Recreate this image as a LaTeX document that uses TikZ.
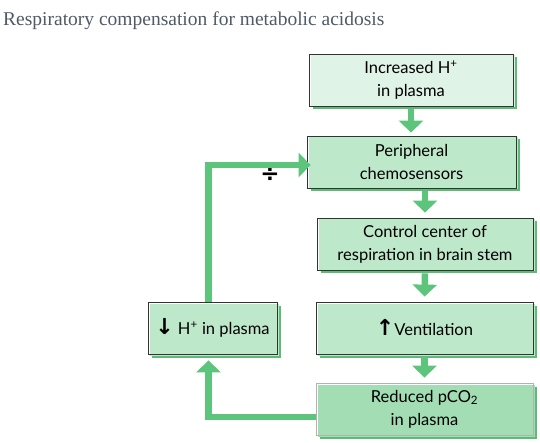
\documentclass[tikz,border=0pt]{standalone}
\usepackage{fontspec}
\setmainfont{Lato}
\newfontfamily\titlefont{Liberation Serif}
\newfontfamily\arrowfont{DejaVu Sans}
\usetikzlibrary{arrows.meta,shadows}

\definecolor{flowgreen}{HTML}{5DC47B}
\definecolor{shadegreen}{HTML}{5DBB78}
\definecolor{palefill}{HTML}{DFF3E6}
\definecolor{midfill}{HTML}{BEE8CA}
\definecolor{deepfill}{HTML}{A2DDB3}
\definecolor{titlegray}{HTML}{4E5A66}

\newcommand{\upmark}{{\arrowfont\bfseries\fontsize{22}{22}\selectfont ↑}}
\newcommand{\downmark}{{\arrowfont\bfseries\fontsize{22}{22}\selectfont ↓}}

\tikzset{
  stage/.style={draw=black!80, line width=0.8pt, minimum height=52pt, inner sep=0pt,
    align=center, font=\fontsize{16.5}{23}\selectfont,
    general shadow={fill=shadegreen, shadow xshift=3.5pt, shadow yshift=-3.5pt},
    general shadow={fill=#1, shadow xshift=1.5pt, shadow yshift=-1.5pt}},
  flow/.style={line width=6.5pt, draw=flowgreen, line join=miter,
    -{Triangle[width=24pt,length=12pt]}}
}

\begin{document}
\begin{tikzpicture}[x=1pt,y=-1pt]
    \useasboundingbox (0,0) rectangle (540,443);
    \node[anchor=base west, inner sep=0pt, text=titlegray, font=\titlefont\fontsize{19.5}{19.5}\selectfont] (title) at (3,26) {Respiratory compensation for metabolic acidosis};

    \node[stage=palefill, minimum width=204pt] (rise) at (411,80) {Increased H\textsuperscript{+}\\in plasma};
    \node[stage=midfill, minimum width=209pt] (sensors) at (411.5,162) {Peripheral\\chemosensors};
    \node[stage=midfill, minimum width=216pt] (center) at (425,244) {Control center of\\respiration in brain stem};
    \node[stage=midfill, minimum width=217pt] (vent) at (424.5,328) {\upmark Ventilation};
    \node[stage=deepfill, draw=black!30, minimum width=217pt] (pco) at (424.5,409) {Reduced pCO\textsubscript{2}\\in plasma};
    \node[stage=midfill, minimum width=129pt] (drop) at (212.5,328) {\downmark\ H\textsuperscript{+} in plasma};
    \node[font=\arrowfont\bfseries\fontsize{23}{23}\selectfont] (sign) at (270,175) {÷};

    % main chain
    \draw[flow, shorten <=3pt, shorten >=3pt] (rise.south) -- (rise.south |- sensors.north);
    \draw[flow, shorten <=3pt, shorten >=5pt] (center.north |- sensors.south) -- (center.north);
    \draw[flow, shorten <=3pt, shorten >=5pt] (center.south) -- (vent.north);
    \draw[flow, shorten <=3pt, shorten >=5pt] (vent.south) -- (pco.north);

    % feedback loop
    \draw[flow, shorten >=6pt] ([yshift=-8pt]pco.west) -| ([xshift=-4pt]drop.south);
    \draw[flow, shorten >=-4pt] ([xshift=-4pt]drop.north) |- ([yshift=-3pt]sensors.west);
\end{tikzpicture}
\end{document}
